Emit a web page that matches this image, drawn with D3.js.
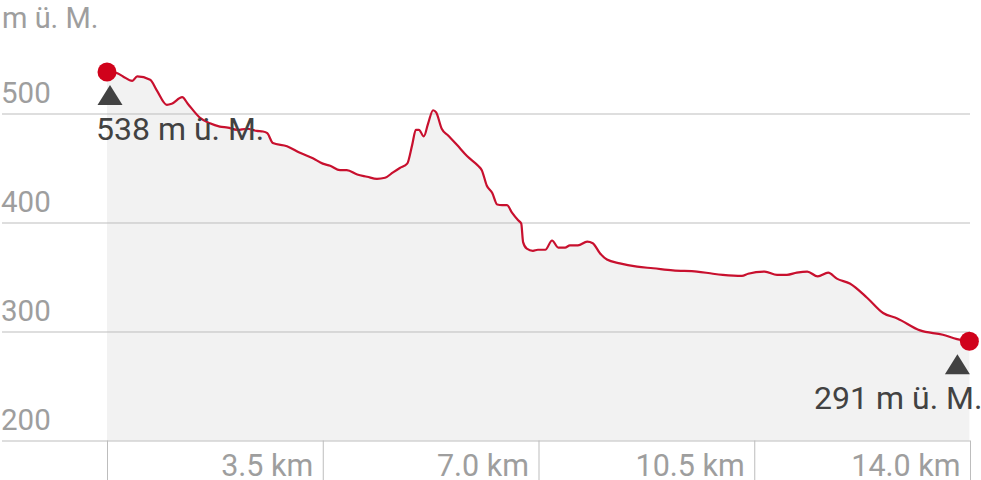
<!DOCTYPE html>
<html>
<head>
<meta charset="utf-8">
<script src="https://cdn.jsdelivr.net/npm/d3@7"></script>
<style>
  body { margin: 0; background: #fff; }
  svg { display: block; font-family: Roboto, "Noto Sans", sans-serif; }
</style>
</head>
<body>
<svg id="chart" width="981" height="480"></svg>
<script>
// Höhenprofil: Distanz (km) und Höhe (m ü. M.)
const distances = [
  0.00, 0.16, 0.26, 0.41, 0.49, 0.70, 0.81, 0.97, 1.05, 1.22,
  1.31, 1.51, 1.67, 1.83, 1.96, 2.11, 2.27, 2.43, 2.53, 2.60,
  2.69, 2.92, 3.13, 3.34, 3.50, 3.62, 3.78, 3.89, 4.06, 4.22,
  4.38, 4.51, 4.64, 4.75, 4.87, 4.95, 5.01, 5.06, 5.14, 5.21,
  5.29, 5.34, 5.43, 5.53, 5.68, 5.84, 6.02, 6.08, 6.16, 6.25,
  6.33, 6.41, 6.49, 6.57, 6.67, 6.72, 6.75, 6.81, 6.91, 6.99,
  7.11, 7.22, 7.32, 7.43, 7.51, 7.64, 7.79, 7.88, 8.00, 8.11,
  8.32, 8.60, 8.86, 9.18, 9.57, 9.83, 9.99, 10.30, 10.40, 10.67,
  10.87, 11.03, 11.19, 11.36, 11.53, 11.70, 11.84, 12.05, 12.33, 12.59,
  12.82, 13.19, 13.56, 13.79, 13.99
];
const elevations = [
  538, 537, 534, 530, 534, 531, 521, 508, 509, 515,
  509, 496, 491, 488, 487, 485, 486, 484, 483.5, 482,
  473, 470, 464, 459, 454, 452, 448, 448, 444, 442,
  440, 441, 446, 450, 454, 471, 485, 485, 479, 491,
  503, 501, 486, 480, 471, 461, 452, 448, 434, 427,
  416.5, 416, 416, 409, 402, 399, 382, 376, 374, 375,
  375, 383.5, 377, 377, 379, 379, 382.5, 381, 371.5, 366,
  362.5, 359.5, 358, 356, 355, 353, 352, 351, 353, 355,
  352, 352, 354, 355, 350.5, 354, 348.5, 344, 331, 317,
  312, 301, 297, 293, 291
];
const yTicks = [200, 300, 400, 500];
const xTicks = [0, 3.5, 7.0, 10.5, 14.0];
const unitLabel = "m ü. M.";

const profile = distances.map((d, i) => ({ km: d, m: elevations[i] }));
const startPt = profile[0];
const endPt = profile[profile.length - 1];

const svg = d3.select("#chart");

const x = d3.scaleLinear().domain([0, 14]).range([107, 970]);
const y = d3.scaleLinear().domain([200, 500]).range([440.5, 113.5]);

// Fläche unter dem Profil
const area = d3.area()
  .x(d => x(d.km))
  .y0(y(200))
  .y1(d => y(d.m))
  .curve(d3.curveMonotoneX);

svg.append("path")
  .datum(profile)
  .attr("d", area)
  .attr("fill", "#f2f2f2");

// horizontale Gitterlinien + Höhenbeschriftung
const yAxis = svg.append("g")
  .attr("transform", "translate(2,0)")
  .call(d3.axisRight(y).tickValues(yTicks).tickSize(968));
yAxis.select(".domain").remove();
yAxis.selectAll(".tick line").attr("stroke", "#bdbdbd").attr("stroke-width", 1);
yAxis.selectAll(".tick text")
  .attr("x", -1)
  .attr("dy", -11)
  .attr("text-anchor", "start")
  .attr("fill", "#9e9e9e")
  .style("font-size", "29.5px")
  .style("font-family", "Roboto, sans-serif");

// Distanzachse unten
const xAxis = svg.append("g")
  .attr("transform", "translate(0," + y(200) + ")")
  .call(d3.axisBottom(x).tickValues(xTicks).tickSize(40)
    .tickFormat(d => d === 0 ? "" : d.toFixed(1) + " km"));
xAxis.select(".domain").remove();
xAxis.selectAll(".tick line").attr("stroke", "#bdbdbd").attr("stroke-width", 1);
xAxis.selectAll(".tick text")
  .attr("x", -10)
  .attr("y", 35)
  .attr("dy", 0)
  .attr("text-anchor", "end")
  .attr("fill", "#9e9e9e")
  .style("font-size", "30.5px")
  .style("font-family", "Roboto, sans-serif");

// Einheit oben links
svg.append("text")
  .attr("x", 2)
  .attr("y", 28)
  .attr("fill", "#9e9e9e")
  .style("font-size", "29px")
  .text(unitLabel);

// Profillinie
const line = d3.line()
  .x(d => x(d.km))
  .y(d => y(d.m))
  .curve(d3.curveMonotoneX);

svg.append("path")
  .datum(profile)
  .attr("d", line)
  .attr("fill", "none")
  .attr("stroke", "#c8102e")
  .attr("stroke-width", 2.2)
  .attr("stroke-linejoin", "round");

// Start- und Endpunkt
svg.selectAll(".endpoint")
  .data([startPt, endPt])
  .join("circle")
  .attr("class", "endpoint")
  .attr("cx", d => x(d.km))
  .attr("cy", d => y(d.m))
  .attr("r", 9.5)
  .attr("fill", "#d0021b");

// Markierungen mit Höhenangabe
const markers = [
  { pt: startPt, dx: 3, anchor: "start", lx: -11 },
  { pt: endPt, dx: -12, anchor: "end", lx: 13 }
];

markers.forEach(mk => {
  const cx = x(mk.pt.km) + mk.dx;
  const top = y(mk.pt.m) + 13;
  svg.append("path")
    .attr("d", "M" + cx + "," + top + "L" + (cx + 12.5) + "," + (top + 20) +
      "L" + (cx - 12.5) + "," + (top + 20) + "Z")
    .attr("fill", "#424242");
  svg.append("text")
    .attr("x", x(mk.pt.km) + mk.lx)
    .attr("y", top + 55)
    .attr("text-anchor", mk.anchor)
    .attr("fill", "#424242")
    .style("font-size", "32px")
    .text(mk.pt.m + " " + unitLabel);
});
</script>
</body>
</html>
